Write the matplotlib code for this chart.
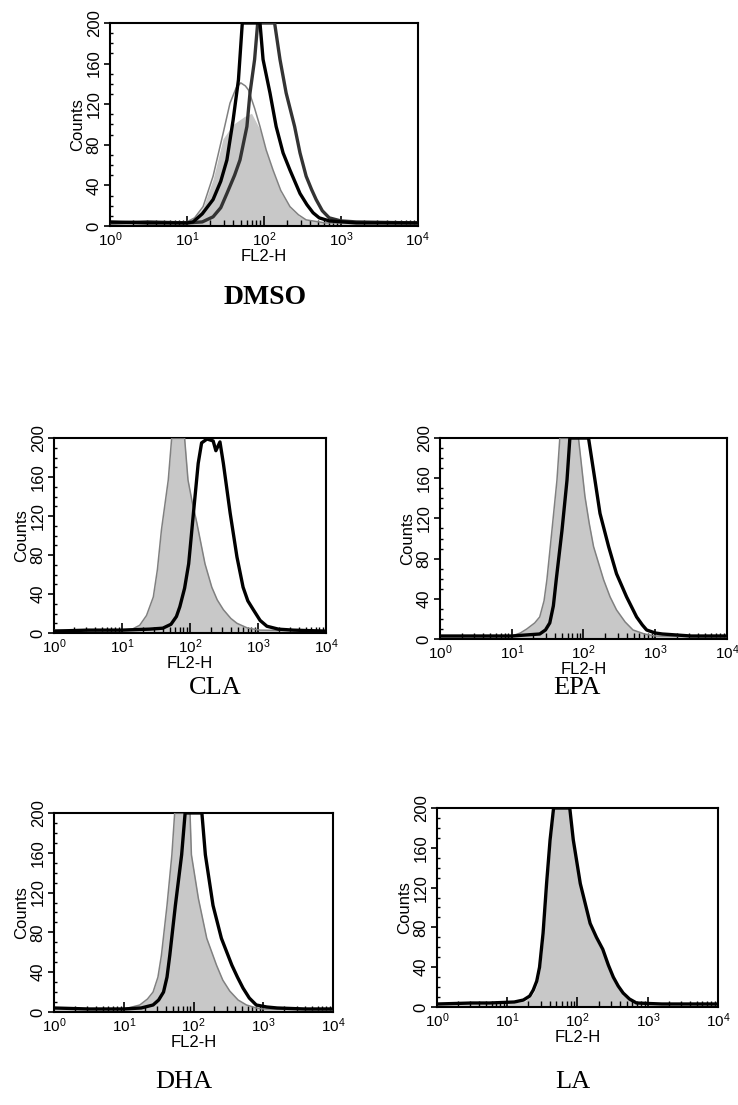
import numpy as np
import matplotlib.pyplot as plt
from matplotlib.ticker import MultipleLocator, LogLocator, NullFormatter

plt.rcParams['font.family'] = ['Liberation Sans', 'DejaVu Sans']

dmso_ctrl_log = [0.0, 0.5, 1.0, 1.1, 1.21, 1.34, 1.47, 1.56, 1.64, 1.70, 1.76, 1.80, 1.88, 1.95, 2.03, 2.12, 2.22, 2.34, 2.45, 2.55, 2.8, 3.2, 4.0]
dmso_ctrl_cnt = [4, 3, 4, 8, 19, 49, 91, 121, 136, 141, 138, 134, 116, 98, 75, 55, 35, 19, 11, 6, 3, 3, 2]
dmso_fill_log = [0.0, 0.5, 1.0, 1.1, 1.21, 1.34, 1.47, 1.6, 1.75, 1.84, 1.95, 2.03, 2.12, 2.22, 2.34, 2.45, 2.55, 2.8, 3.2, 4.0]
dmso_fill_cnt = [4, 3, 4, 8, 18, 46, 86, 100, 108, 111, 95, 73, 53, 33, 18, 10, 6, 3, 3, 2]
dmso_s1_log = [0.0, 0.5, 1.0, 1.08, 1.2, 1.34, 1.44, 1.52, 1.60, 1.67, 1.72, 1.95, 1.99, 2.08, 2.16, 2.25, 2.34, 2.47, 2.56, 2.64, 2.72, 2.85, 3.2, 4.0]
dmso_s1_cnt = [4, 3, 3, 4, 12, 26, 44, 65, 104, 144, 200, 200, 164, 131, 98, 72, 55, 32, 21, 13, 8, 5, 3, 3]
dmso_s2_log = [0.0, 0.5, 1.0, 1.2, 1.34, 1.44, 1.52, 1.62, 1.69, 1.78, 1.82, 1.88, 1.92, 2.14, 2.21, 2.29, 2.40, 2.47, 2.55, 2.62, 2.68, 2.76, 2.85, 3.0, 3.2, 4.0]
dmso_s2_cnt = [3, 4, 3, 4, 9, 18, 32, 50, 65, 98, 131, 164, 200, 200, 164, 131, 98, 72, 49, 36, 26, 15, 8, 5, 4, 3]

cla_ctrl_log = [0.0, 0.5, 1.0, 1.15, 1.26, 1.36, 1.46, 1.52, 1.58, 1.68, 1.73, 1.92, 1.97, 2.03, 2.10, 2.22, 2.32, 2.40, 2.49, 2.6, 2.69, 2.85, 3.03, 4.0]
cla_ctrl_cnt = [3, 2, 3, 4, 8, 18, 37, 65, 106, 157, 200, 200, 157, 135, 113, 71, 47, 34, 24, 15, 10, 5, 3, 2]
cla_s_log = [0.0, 0.5, 1.0, 1.4, 1.6, 1.72, 1.80, 1.85, 1.92, 1.98, 2.05, 2.12, 2.17, 2.25, 2.34, 2.38, 2.44, 2.49, 2.59, 2.69, 2.78, 2.85, 2.93, 3.03, 3.13, 3.3, 3.52, 4.0]
cla_s_cnt = [2, 3, 3, 4, 5, 9, 17, 27, 46, 71, 123, 174, 195, 199, 197, 187, 196, 174, 123, 78, 47, 33, 24, 13, 7, 4, 3, 2]

epa_ctrl_log = [0.0, 0.5, 1.0, 1.12, 1.21, 1.32, 1.39, 1.45, 1.49, 1.56, 1.63, 1.67, 1.93, 2.02, 2.08, 2.14, 2.28, 2.37, 2.46, 2.58, 2.69, 2.85, 3.0, 4.0]
epa_ctrl_cnt = [3, 3, 3, 6, 10, 16, 22, 38, 59, 108, 158, 200, 200, 142, 115, 92, 59, 42, 29, 17, 9, 5, 3, 2]
epa_s_log = [0.0, 0.5, 1.0, 1.39, 1.47, 1.53, 1.58, 1.62, 1.70, 1.77, 1.81, 2.07, 2.16, 2.23, 2.35, 2.46, 2.60, 2.74, 2.82, 2.88, 3.0, 3.1, 3.5, 4.0]
epa_s_cnt = [3, 3, 3, 5, 9, 16, 33, 59, 108, 158, 200, 200, 158, 125, 92, 65, 42, 22, 14, 9, 6, 5, 3, 3]

dha_ctrl_log = [0.0, 0.5, 1.0, 1.12, 1.23, 1.34, 1.42, 1.49, 1.54, 1.62, 1.69, 1.73, 1.95, 1.97, 2.07, 2.19, 2.33, 2.42, 2.52, 2.64, 2.76, 2.9, 3.0, 4.0]
dha_ctrl_cnt = [4, 3, 3, 5, 7, 13, 20, 35, 57, 107, 158, 200, 200, 158, 114, 74, 47, 32, 21, 12, 7, 4, 3, 2]
dha_s_log = [0.0, 0.5, 1.0, 1.25, 1.42, 1.50, 1.57, 1.62, 1.66, 1.74, 1.83, 1.88, 2.12, 2.17, 2.28, 2.40, 2.55, 2.63, 2.71, 2.80, 2.90, 3.05, 3.2, 3.6, 4.0]
dha_s_cnt = [4, 3, 3, 4, 7, 12, 20, 35, 57, 107, 158, 200, 200, 158, 107, 74, 47, 35, 24, 14, 7, 5, 4, 3, 3]

la_ctrl_log = [0.0, 0.5, 1.0, 1.25, 1.33, 1.38, 1.43, 1.47, 1.52, 1.57, 1.62, 1.67, 1.88, 1.93, 2.03, 2.17, 2.26, 2.35, 2.43, 2.50, 2.57, 2.64, 2.73, 2.83, 3.2, 4.0]
la_ctrl_cnt = [3, 3, 3, 6, 10, 15, 24, 38, 72, 122, 166, 200, 200, 166, 122, 82, 68, 56, 40, 28, 19, 12, 7, 3, 2, 2]
la_s_log = [0.0, 0.5, 0.75, 1.1, 1.23, 1.32, 1.37, 1.42, 1.46, 1.51, 1.56, 1.61, 1.66, 1.89, 1.94, 2.04, 2.18, 2.27, 2.36, 2.44, 2.51, 2.58, 2.65, 2.74, 2.84, 3.2, 4.0]
la_s_cnt = [3, 4, 4, 5, 7, 11, 17, 26, 40, 74, 124, 168, 200, 200, 168, 124, 84, 70, 58, 42, 30, 21, 14, 8, 4, 3, 3]

FILL = '#c8c8c8'
THIN = '#808080'


def style_axes(ax):
    ax.set_xscale('log')
    ax.set_xlim(1, 1e4)
    ax.set_ylim(0, 200)
    ax.set_yticks([0, 40, 80, 120, 160, 200])
    ax.yaxis.set_minor_locator(MultipleLocator(10))
    ax.xaxis.set_major_locator(LogLocator(base=10, numticks=10))
    ax.xaxis.set_minor_locator(LogLocator(base=10, subs=np.arange(2, 10), numticks=10))
    ax.xaxis.set_minor_formatter(NullFormatter())
    ax.tick_params(axis='x', which='major', direction='in', length=7, width=1.2, labelsize=11, pad=3)
    ax.tick_params(axis='x', which='minor', direction='in', length=4, width=1)
    ax.tick_params(axis='y', which='major', direction='out', length=4, width=1.2, labelsize=12, pad=2)
    ax.tick_params(axis='y', which='minor', direction='in', length=2, width=1)
    for lab in ax.get_yticklabels():
        lab.set_rotation(90)
        lab.set_va('center')
    ax.set_ylabel('Counts', fontsize=12, labelpad=1)
    ax.set_xlabel('FL2-H', fontsize=12, labelpad=0)
    for s in ax.spines.values():
        s.set_linewidth(1.5)


def fill_curve(ax, lx, cnt):
    ax.fill_between(10 ** np.array(lx), cnt, 0, color=FILL, lw=0, zorder=1)


def line(ax, lx, cnt, color='black', lw=2.4):
    ax.plot(10 ** np.array(lx), cnt, color=color, lw=lw, zorder=3)


fig = plt.figure(figsize=(7.38, 11.05), dpi=100)

# DMSO
ax = fig.add_axes([0.149, 0.7955, 0.417, 0.1837])
fill_curve(ax, dmso_fill_log, dmso_fill_cnt)
line(ax, dmso_ctrl_log, dmso_ctrl_cnt, THIN, 1.1)
line(ax, dmso_s2_log, dmso_s2_cnt, '#333333')
line(ax, dmso_s1_log, dmso_s1_cnt)
style_axes(ax)

# CLA
ax = fig.add_axes([0.0732, 0.4271, 0.3686, 0.1765])
fill_curve(ax, cla_ctrl_log, cla_ctrl_cnt)
line(ax, cla_ctrl_log, cla_ctrl_cnt, THIN, 1.1)
line(ax, cla_s_log, cla_s_cnt)
style_axes(ax)

# EPA
ax = fig.add_axes([0.5962, 0.4217, 0.3889, 0.1819])
fill_curve(ax, epa_ctrl_log, epa_ctrl_cnt)
line(ax, epa_ctrl_log, epa_ctrl_cnt, THIN, 1.1)
line(ax, epa_s_log, epa_s_cnt)
style_axes(ax)

# DHA
ax = fig.add_axes([0.0732, 0.0842, 0.378, 0.1801])
fill_curve(ax, dha_ctrl_log, dha_ctrl_cnt)
line(ax, dha_ctrl_log, dha_ctrl_cnt, THIN, 1.1)
line(ax, dha_s_log, dha_s_cnt)
style_axes(ax)

# LA
ax = fig.add_axes([0.5921, 0.0887, 0.3808, 0.1801])
fill_curve(ax, la_ctrl_log, la_ctrl_cnt)
line(ax, la_s_log, la_s_cnt)
style_axes(ax)

serif = ['Liberation Serif', 'DejaVu Serif']
fig.text(0.359, 0.731, 'DMSO', family=serif, fontsize=20, fontweight='bold', ha='center', va='center')
fig.text(0.291, 0.377, 'CLA', family=serif, fontsize=19, ha='center', va='center')
fig.text(0.782, 0.377, 'EPA', family=serif, fontsize=19, ha='center', va='center')
fig.text(0.249, 0.0208, 'DHA', family=serif, fontsize=19, ha='center', va='center')
fig.text(0.776, 0.0208, 'LA', family=serif, fontsize=19, ha='center', va='center')

fig.savefig('out.png', dpi=100)
